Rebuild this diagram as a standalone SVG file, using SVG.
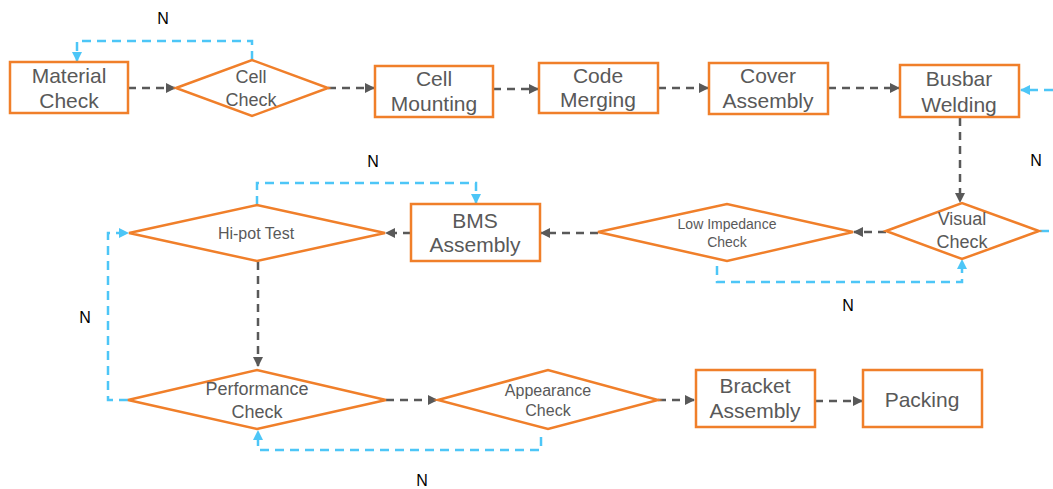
<svg xmlns="http://www.w3.org/2000/svg" width="1053" height="489" viewBox="0 0 1053 489">
<defs>
<style>
.box{fill:#fff;stroke:#F07F2A;stroke-width:2.5}
.dia{fill:#fff;stroke:#F07F2A;stroke-width:2.5;stroke-linejoin:miter}
.t{font-family:"Liberation Sans",Arial,sans-serif;fill:#595959;text-anchor:middle}
.r{font-size:21px}
.n{font-family:"Liberation Sans",Arial,sans-serif;fill:#000;font-size:16px;text-anchor:middle}
.g{fill:none;stroke:#595959;stroke-width:2.5;stroke-dasharray:8 6;marker-end:url(#ag)}
.b{fill:none;stroke:#4DC6F7;stroke-width:2.5;stroke-dasharray:9 6}
.ba{marker-end:url(#ab)}
</style>
<marker id="ag" viewBox="0 0 10 10" refX="9" refY="5" markerWidth="4" markerHeight="4" orient="auto" markerUnits="strokeWidth">
<path d="M0,0 L10,5 L0,10 z" fill="#595959"/>
</marker>
<marker id="ab" viewBox="0 0 10 10" refX="9" refY="5" markerWidth="4" markerHeight="4" orient="auto" markerUnits="strokeWidth">
<path d="M0,0 L10,5 L0,10 z" fill="#4DC6F7"/>
</marker>
</defs>
<rect width="1053" height="489" fill="#fff"/>

<g id="connectors">
<path class="g" d="M128,88 H175"/>
<path class="g" d="M328,88 H374"/>
<path class="g" d="M493,89 H538"/>
<path class="g" d="M658,88 H708"/>
<path class="g" d="M828,88 H899"/>
<path class="g" d="M960,118 V202"/>
<path class="g" d="M886,232 H854"/>
<path class="g" d="M598,233 H541"/>
<path class="g" d="M411,233 H386"/>
<path class="g" d="M258,262 V366"/>
<path class="g" d="M386,400 H437"/>
<path class="g" d="M658,400 H694"/>
<path class="g" d="M815,401 H862"/>

<path class="b ba" d="M252,60 V41 H77 V61"/>
<path class="b ba" d="M1053,90 H1021"/>
<path class="b" d="M1040,231 H1053"/>
<path class="b ba" d="M717,266 V282 H962 V260"/>
<path class="b ba" d="M257,205 V183 H476 V203"/>
<path class="b ba" d="M128,400 H108 V233 H128"/>
<path class="b ba" d="M541,437 V450 H258 V431"/>
</g>

<g id="n-labels">
<text class="n" x="163" y="24">N</text>
<text class="n" x="1036" y="166">N</text>
<text class="n" x="373" y="167">N</text>
<text class="n" x="848" y="311">N</text>
<text class="n" x="85" y="323">N</text>
<text class="n" x="422" y="486">N</text>
</g>

<g id="material-check">
<rect class="box" x="10" y="62" width="118" height="51"/>
<text class="t r" x="69" y="83">Material</text>
<text class="t r" x="69" y="108">Check</text>
</g>

<g id="cell-check">
<polygon class="dia" points="176,88 252,60 328,88 252,116"/>
<text class="t" font-size="18" x="251" y="83">Cell</text>
<text class="t" font-size="18" x="251" y="106">Check</text>
</g>

<g id="cell-mounting">
<rect class="box" x="375" y="66" width="118" height="51"/>
<text class="t r" x="434" y="86">Cell</text>
<text class="t r" x="434" y="111">Mounting</text>
</g>

<g id="code-merging">
<rect class="box" x="539" y="63" width="119" height="50"/>
<text class="t r" x="598" y="83">Code</text>
<text class="t r" x="598" y="107">Merging</text>
</g>

<g id="cover-assembly">
<rect class="box" x="709" y="63" width="119" height="51"/>
<text class="t r" x="768" y="83">Cover</text>
<text class="t r" x="768" y="108">Assembly</text>
</g>

<g id="busbar-welding">
<rect class="box" x="900" y="65" width="119" height="52"/>
<text class="t r" x="959" y="86">Busbar</text>
<text class="t r" x="959" y="112">Welding</text>
</g>

<g id="visual-check">
<polygon class="dia" points="886,231 962,203 1039,231 962,259"/>
<text class="t" font-size="18" x="962" y="225">Visual</text>
<text class="t" font-size="18" x="962" y="248">Check</text>
</g>

<g id="low-impedance-check">
<polygon class="dia" points="598,232 727,204 853,232 727,261"/>
<text class="t" font-size="14" x="727" y="229">Low Impedance</text>
<text class="t" font-size="14" x="727" y="247">Check</text>
</g>

<g id="bms-assembly">
<rect class="box" x="411" y="204" width="129" height="57"/>
<text class="t r" x="475" y="228">BMS</text>
<text class="t r" x="475" y="252">Assembly</text>
</g>

<g id="hipot-test">
<polygon class="dia" points="129,233 257,205 385,233 257,261"/>
<text class="t" font-size="16" x="256" y="239">Hi-pot Test</text>
</g>

<g id="performance-check">
<polygon class="dia" points="128,400 257,370 386,400 257,429"/>
<text class="t" font-size="18" x="257" y="395">Performance</text>
<text class="t" font-size="18" x="257" y="418">Check</text>
</g>

<g id="appearance-check">
<polygon class="dia" points="438,400 548,370 658,400 548,429"/>
<text class="t" font-size="16" x="548" y="396">Appearance</text>
<text class="t" font-size="16" x="548" y="416">Check</text>
</g>

<g id="bracket-assembly">
<rect class="box" x="696" y="370" width="119" height="57"/>
<text class="t r" x="755" y="393">Bracket</text>
<text class="t r" x="755" y="418">Assembly</text>
</g>

<g id="packing">
<rect class="box" x="863" y="370" width="119" height="57"/>
<text class="t r" x="922" y="407">Packing</text>
</g>
</svg>
